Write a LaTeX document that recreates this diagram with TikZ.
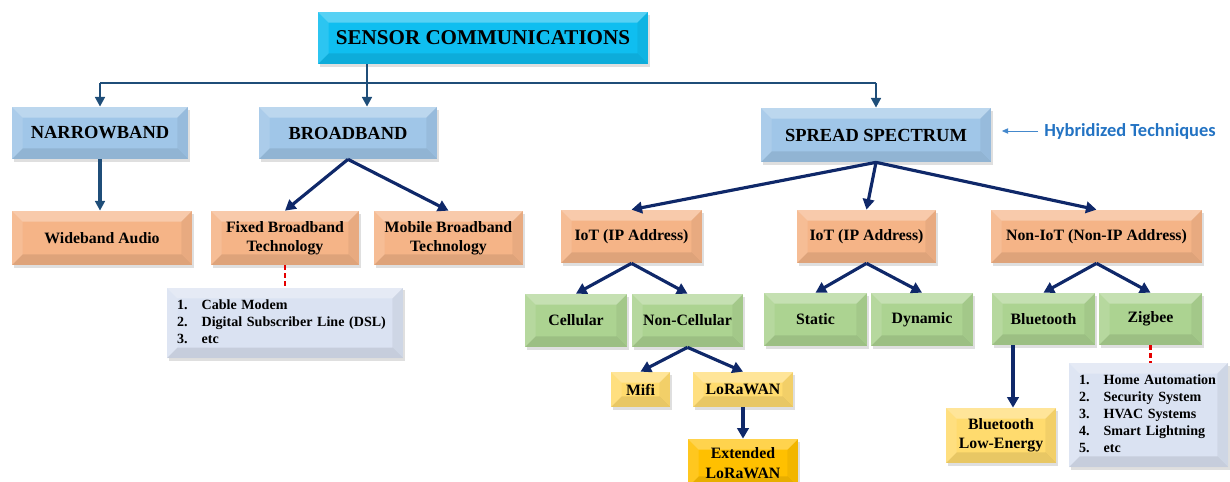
\documentclass[tikz,border=0pt]{standalone}
\usepackage{fontspec}
\setmainfont{Liberation Serif}
\newfontfamily\hybfont{Carlito}
\usetikzlibrary{arrows.meta,shadows}
\definecolor{scblue}{RGB}{15,190,240}
\definecolor{lvlblue}{RGB}{160,198,232}
\definecolor{peach}{RGB}{245,180,135}
\definecolor{leafgreen}{RGB}{172,211,145}
\definecolor{paleyellow}{RGB}{255,219,110}
\definecolor{goldyellow}{RGB}{255,192,0}
\definecolor{lavender}{RGB}{218,226,242}
\definecolor{busblue}{RGB}{31,78,121}
\definecolor{navy}{RGB}{15,40,105}
\definecolor{hybblue}{RGB}{35,115,195}
\newcommand{\bevelsize}{6pt}
\newcommand{\bevelfaces}{%
  \path (path picture bounding box.north west) coordinate (pnw)
        (path picture bounding box.north east) coordinate (pne)
        (path picture bounding box.south west) coordinate (psw)
        (path picture bounding box.south east) coordinate (pse);
  \fill[white,opacity=.3] (pnw) -- (pne) -- ([shift={(-\bevelsize,-\bevelsize)}]pne) -- ([shift={(\bevelsize,-\bevelsize)}]pnw) -- cycle;
  \fill[white,opacity=.12] (pnw) -- ([shift={(\bevelsize,-\bevelsize)}]pnw) -- ([shift={(\bevelsize,\bevelsize)}]psw) -- (psw) -- cycle;
  \fill[black,opacity=.05] (pne) -- ([shift={(-\bevelsize,-\bevelsize)}]pne) -- ([shift={(-\bevelsize,\bevelsize)}]pse) -- (pse) -- cycle;
  \fill[black,opacity=.09] (psw) -- ([shift={(\bevelsize,\bevelsize)}]psw) -- ([shift={(-\bevelsize,\bevelsize)}]pse) -- (pse) -- cycle;
}
\tikzset{
  techbox/.style={path picture={\bevelfaces}, align=center, inner sep=2pt,
    font=\bfseries\fontsize{9}{11}\selectfont,
    drop shadow={shadow xshift=1.2pt,shadow yshift=-1.5pt,opacity=.25}},
  topbox/.style={techbox,fill=scblue,font=\bfseries\fontsize{12}{14}\selectfont},
  levelbox/.style={techbox,fill=lvlblue,font=\bfseries\fontsize{10.5}{12}\selectfont},
  peachbox/.style={techbox,fill=peach},
  greenbox/.style={techbox,fill=leafgreen},
  yellowbox/.style={techbox,fill=paleyellow},
  goldbox/.style={techbox,fill=goldyellow},
  listbox/.style={techbox,fill=lavender,align=left,inner sep=5.6pt,
    font=\bfseries\fontsize{8}{9.6}\selectfont},
  busline/.style={busblue,line width=1.6pt},
  busarrow/.style={busline,-{Triangle[length=5.5pt,width=5.5pt]}},
  navyarrow/.style={navy,line width=1.8pt,-{Triangle[length=6pt,width=6.5pt]}},
  reddash/.style={red!90!black,line width=1.3pt,dash pattern=on 2.8pt off 1.7pt},
  hyblabel/.style={text=hybblue,font=\hybfont\bfseries\fontsize{10.5}{12}\selectfont},
  hybarrow/.style={hybblue!85,line width=0.5pt,-{Triangle[length=3.5pt,width=3pt]}}
}
\begin{document}
\begin{tikzpicture}[x=0.02cm,y=-0.02cm]
\useasboundingbox (0,0) rectangle (1230,482);
%Top
\node[topbox,minimum width=6.6cm,minimum height=1.04cm] (sc) at (483,38) {SENSOR COMMUNICATIONS};
%Level 2
\node[levelbox,minimum width=3.52cm,minimum height=1.04cm] (narrow) at (100,133) {NARROWBAND};
\node[levelbox,minimum width=3.56cm,minimum height=1.04cm] (broad) at (348,133) {BROADBAND};
\node[levelbox,minimum width=4.6cm,minimum height=1.08cm] (spread) at (876,135) {SPREAD SPECTRUM};
\node[hyblabel] (hyb) at (1130,131) {Hybridized Techniques};
%Level 3
\node[peachbox,minimum width=3.6cm,minimum height=1.08cm] (wideband) at (102,238) {Wideband Audio};
\node[peachbox,minimum width=2.96cm,minimum height=1.08cm] (fixedbb) at (285,238) {Fixed Broadband\\Technology};
\node[peachbox,minimum width=2.98cm,minimum height=1.08cm] (mobilebb) at (448.5,238) {Mobile Broadband\\Technology};
\node[peachbox,minimum width=2.82cm,minimum height=1.06cm] (iotleft) at (631.5,236.5) {IoT (IP Address)};
\node[peachbox,minimum width=2.78cm,minimum height=1.06cm] (iotmid) at (866.5,236.5) {IoT (IP Address)};
\node[peachbox,minimum width=4.22cm,minimum height=1.06cm] (noniot) at (1096.5,236.5) {Non-IoT (Non-IP Address)};
%Level 4
\node[greenbox,minimum width=2.04cm,minimum height=1.06cm] (cellular) at (576,320.5) {Cellular};
\node[greenbox,minimum width=2.22cm,minimum height=1.06cm] (noncell) at (687.5,320.5) {Non-Cellular};
\node[greenbox,minimum width=2.06cm,minimum height=1.06cm] (static) at (815.5,319.5) {Static};
\node[greenbox,minimum width=2.04cm,minimum height=1.06cm] (dynamic) at (922,319.5) {Dynamic};
\node[greenbox,minimum width=2.06cm,minimum height=1.04cm] (bluetooth) at (1043.5,319) {Bluetooth};
\node[greenbox,minimum width=2.06cm,minimum height=1.04cm] (zigbee) at (1150.5,319) {Zigbee};
%Level 5
\node[yellowbox,minimum width=1.18cm,minimum height=0.7cm] (mifi) at (640.5,389.5) {Mifi};
\node[yellowbox,minimum width=2.0cm,minimum height=0.7cm] (lorawan) at (743,389.5) {LoRaWAN};
\node[goldbox,minimum width=2.2cm,minimum height=0.96cm] (extlora) at (743,463) {Extended\\LoRaWAN};
\node[yellowbox,minimum width=2.2cm,minimum height=1.1cm] (ble) at (1001,435.5) {Bluetooth\\Low-Energy};
%Lists
\node[listbox,minimum width=4.72cm,minimum height=1.16cm,text width=4.32cm] (fixedlist) at (285,323)
  {\begin{tabular}{@{}l@{\hspace{8pt}}l@{}}1. & Cable Modem\\2. & Digital Subscriber Line (DSL)\\3. & etc\end{tabular}};
\node[listbox,minimum width=3.18cm,minimum height=1.92cm,text width=2.78cm] (zigbeelist) at (1148.5,415)
  {\begin{tabular}{@{}l@{\hspace{8pt}}l@{}}1. & Home Automation\\2. & Security System\\3. & HVAC Systems\\4. & Smart Lightning\\5. & etc\end{tabular}};
%Bus
\coordinate (bus) at (367,83);
\draw[busline] (narrow.north |- bus) -- (spread.north |- bus);
\draw[busarrow] (sc.south -| bus) -- (broad.north -| bus);
\draw[busarrow] (narrow.north |- bus) -- (narrow.north);
\draw[busarrow] (spread.north |- bus) -- (spread.north);
%Branches
\draw[busarrow,line width=1.8pt] (narrow.south) -- (narrow.south |- wideband.north);
\draw[navyarrow] (broad.south) -- (fixedbb.north);
\draw[navyarrow] (broad.south) -- (mobilebb.north);
\draw[navyarrow] (spread.south) -- (iotleft.north);
\draw[navyarrow] (spread.south) -- (iotmid.north);
\draw[navyarrow] (spread.south) -- (noniot.north);
\draw[navyarrow] (iotleft.south) -- (cellular.north);
\draw[navyarrow] (iotleft.south) -- (noncell.north);
\draw[navyarrow] (iotmid.south) -- (static.north);
\draw[navyarrow] (iotmid.south) -- (dynamic.north);
\draw[navyarrow] (noniot.south) -- (bluetooth.north);
\draw[navyarrow] (noniot.south) -- (zigbee.north);
\draw[navyarrow] (noncell.south) -- (mifi.north);
\draw[navyarrow] (noncell.south) -- (lorawan.north);
\draw[navyarrow] (lorawan.south) -- (extlora.north);
\coordinate (bledrop) at (1013,0);
\draw[navyarrow] (bluetooth.south -| bledrop) -- (ble.north -| bledrop);
%Examples
\draw[reddash] (fixedbb.south) -- (fixedbb.south |- fixedlist.north);
\draw[reddash] (zigbee.south) -- (zigbee.south |- zigbeelist.north);
\draw[hybarrow,shorten >=6pt] (hyb.west) -- (hyb.west -| spread.east);
\end{tikzpicture}
\end{document}
